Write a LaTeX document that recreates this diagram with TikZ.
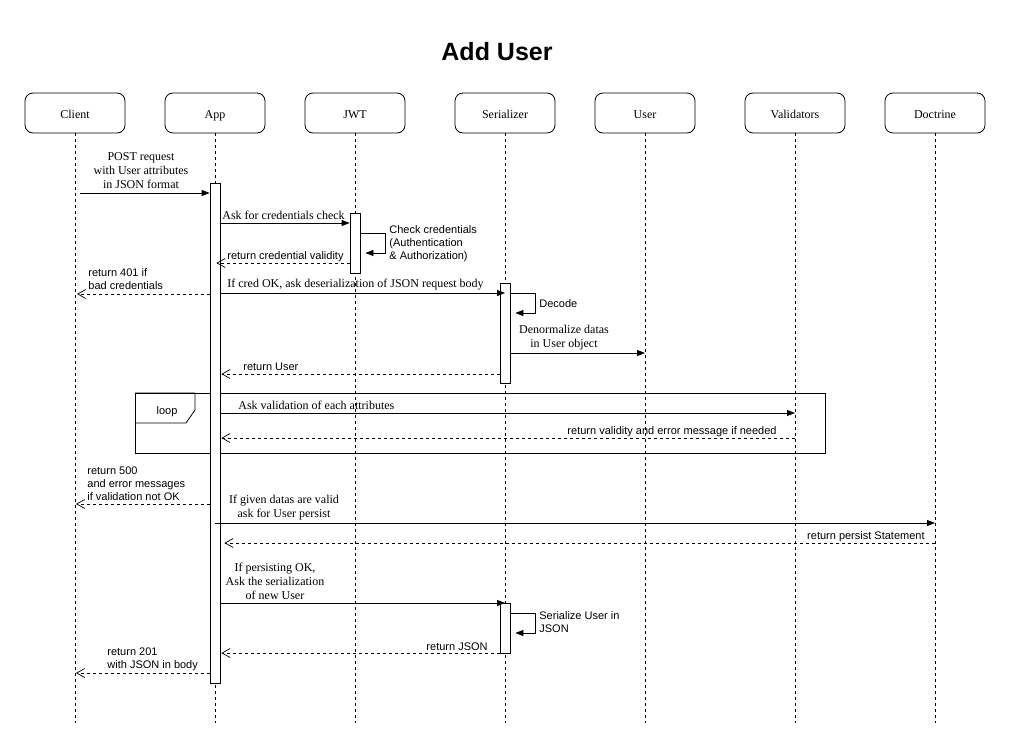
\documentclass[tikz,border=0pt]{standalone}
\usepackage{fontspec}
\setmainfont{Liberation Serif}
\setsansfont{Liberation Sans}
\usetikzlibrary{positioning,calc,arrows.meta}
\begin{document}
\begin{tikzpicture}[x=1pt,y=-1pt,line width=0.8pt,
    actor/.style={draw,rounded corners=8pt,minimum width=100pt,minimum height=40pt,inner sep=0pt,
      text height=12pt,text depth=0pt,font=\fontsize{12}{14}\selectfont},
    bar/.style={draw,fill=white,minimum width=10pt,inner sep=0pt},
    life/.style={dash pattern=on 3pt off 3pt},
    call/.style={-{Triangle[length=8pt,width=6pt]}},
    back/.style={dash pattern=on 3pt off 3pt,-{Straight Barb[length=8pt,width=9pt,line width=0.7pt]}},
    st/.style={font=\fontsize{12}{14}\selectfont,inner sep=0pt,align=center},
    ss/.style={font=\sffamily\fontsize{11}{13}\selectfont,inner sep=0pt,align=left,yshift=-1.5pt}]
  \useasboundingbox (0,0) rectangle (1011,749);
  \node[font=\sffamily\bfseries\fontsize{25}{30}\selectfont] (title) at (497,52) {Add User};
  % lifelines
  \node[actor] (client) at (75,113) {Client};
  \node[actor] (app) at (215,113) {App};
  \node[actor] (jwt) at (355,113) {JWT};
  \node[actor] (ser) at (505,113) {Serializer};
  \node[actor] (user) at (645,113) {User};
  \node[actor] (valid) at (795,113) {Validators};
  \node[actor] (doct) at (935,113) {Doctrine};
  \coordinate (bottom) at (0,723);
  \foreach \n in {client,app,jwt,ser,user,valid,doct}
    \draw[life] (\n.south) -- (\n.south |- bottom);
  % loop frame
  \draw (135,393) rectangle (825,453);
  \draw (135,393) -- (195,393) -- (195,410) -- (186,423) -- (135,423);
  \node[ss] (loop) at (167,410) {loop};
  % activations
  \node[bar,minimum height=500pt] (appbar) at (215,433) {};
  \node[bar,minimum height=60pt] (jwtbar) at (355,243) {};
  \node[bar,minimum height=100pt] (serbar1) at (505,333) {};
  \node[bar,minimum height=50pt] (serbar2) at (505,628) {};
  % message heights
  \foreach \n/\y in {1/193,2/223,3/233,4/263,5/294,6/293,8/353,9/374,11/413,12/438,
      13/504,14/523,15/543,16/603,17/613,18/653,19/673}
    \coordinate (m\n) at (0,\y);
  \draw[call] ([xshift=5pt]client.south |- m1) -- (appbar.west |- m1);
  \node[st] (l1) at (141,171) {POST request\\with User attributes\\in JSON format};
  \draw[call] (appbar.east |- m2) -- (jwtbar.west |- m2);
  \node[st,anchor=west] (l2) at (222,215) {Ask for credentials check};
  \draw[call] (jwtbar.east |- m3) -- ++(25,0) -- ++(0,20) -- ++(-20,0);
  \node[ss,anchor=west] (l3) at (389,242) {Check credentials\\(Authentication\\\& Authorization)};
  \draw[back] (jwtbar.west |- m4) -- ([xshift=-4pt]appbar.east |- m4);
  \node[ss,anchor=west] (l4) at (227,255) {return credential validity};
  \draw[back] (appbar.west |- m5) -- ([xshift=2pt]client.south |- m5);
  \node[ss,anchor=west] (l5) at (88,278) {return 401 if\\bad credentials};
  \draw[call] (appbar.east |- m6) -- (ser.south |- m6);
  \node[st,anchor=west] (l6) at (227,285) {If cred OK, ask deserialization of JSON request body};
  \draw[call] (serbar1.east |- m6) -- ++(25,0) -- ++(0,20) -- ++(-20,0);
  \node[ss,anchor=west] (l7) at (539,302) {Decode};
  \draw[call] (serbar1.east |- m8) -- (user.south |- m8);
  \node[st] (l8) at (564,338) {Denormalize datas\\in User object};
  \draw[back] (serbar1.west |- m9) -- ([xshift=1pt]appbar.east |- m9);
  \node[ss,anchor=west] (l9) at (243,365) {return User};
  \draw[call] (appbar.east |- m11) -- (valid.south |- m11);
  \node[st,anchor=west] (l11) at (238,405) {Ask validation of each attributes};
  \draw[back] (valid.south |- m12) -- ([xshift=1pt]appbar.east |- m12);
  \node[ss,anchor=east] (l12) at (777,430) {return validity and error message if needed};
  \draw[back] (appbar.west |- m13) -- ([xshift=1pt]client.south |- m13);
  \node[ss,anchor=west] (l13) at (87,482) {return 500\\and error messages\\if validation not OK};
  \draw[call] (app.south |- m14) -- (doct.south |- m14);
  \node[st] (l14) at (284,508) {If given datas are valid\\ask for User persist};
  \draw[back] (doct.south |- m15) -- ([xshift=4pt]appbar.east |- m15);
  \node[ss,anchor=east] (l15) at (925,535) {return persist Statement};
  \draw[call] (appbar.east |- m16) -- (ser.south |- m16);
  \node[st] (l16) at (275,581) {If persisting OK,\\Ask the serialization\\of new User};
  \draw[call] (serbar2.east |- m17) -- ++(25,0) -- ++(0,20) -- ++(-20,0);
  \node[ss,anchor=west] (l17) at (539,621) {Serialize User in\\JSON};
  \draw[back] (serbar2.west |- m18) -- ([xshift=1pt]appbar.east |- m18);
  \node[ss,anchor=east] (l18) at (488,645) {return JSON};
  \draw[back] (appbar.west |- m19) -- ([xshift=1pt]client.south |- m19);
  \node[ss,anchor=west] (l19) at (107,658) {return 201\\with JSON in body};
\end{tikzpicture}
\end{document}
